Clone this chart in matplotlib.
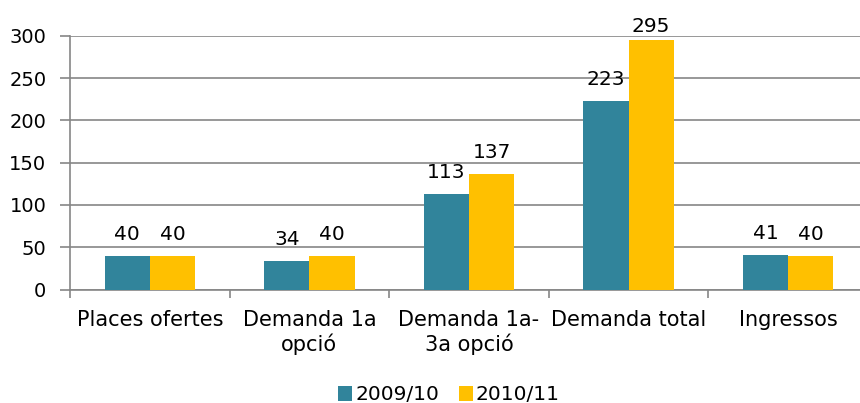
import matplotlib
matplotlib.use("Agg")
import matplotlib.pyplot as plt
import numpy as np

categories = ["Places ofertes", "Demanda 1a\nopció", "Demanda 1a-\n3a opció", "Demanda total", "Ingressos"]
series_names = ["2009/10", "2010/11"]
values_2009 = [40, 34, 113, 223, 41]
values_2010 = [40, 40, 137, 295, 40]
yticks = [0, 50, 100, 150, 200, 250, 300]

colors = ["#31849B", "#FFC000"]
grid_c = "#868686"
fs = 14

W, H = 860, 403
fig = plt.figure(figsize=(W / 100, H / 100), dpi=100)
left, right, top, bottom = 70, 868, 36, 289.5
ax = fig.add_axes([left / W, 1 - bottom / H, (right - left) / W, (bottom - top) / H])

ymax = 300
px_per_unit = (bottom - top) / ymax
gap = 15.7 / px_per_unit          # label baseline gap above bar (data units)
cap = ymax + 4 / px_per_unit      # labels cannot rise above plot top + 4px

x = np.arange(len(categories))
bw = 0.283
for i, (vals, c, name) in enumerate(zip([values_2009, values_2010], colors, series_names)):
    pos = x + (i - 0.5) * bw
    ax.bar(pos, vals, width=bw, color=c, label=name, zorder=3)
    for p, v in zip(pos, vals):
        ax.text(p, min(v + gap, cap), str(v), ha="center", va="baseline",
                fontsize=14.5, color="black", clip_on=False)

ax.set_xlim(-0.5, len(categories) - 0.5)
ax.set_ylim(0, ymax)
ax.set_yticks(yticks)
ax.set_yticklabels([str(t) for t in yticks], fontsize=fs)
ax.yaxis.grid(True, color=grid_c, linewidth=1.2, zorder=0)
ax.set_axisbelow(True)

ax.set_xticks(x)
ax.set_xticklabels(categories, fontsize=15, linespacing=1.2)
ax.set_xticks(np.arange(len(categories) + 1) - 0.5, minor=True)
ax.tick_params(axis="x", which="major", length=0, pad=15)
ax.tick_params(axis="x", which="minor", length=6, width=1.2, color=grid_c, direction="out")
ax.tick_params(axis="y", length=7, width=1.2, color=grid_c, pad=10)

for s in ["top", "right"]:
    ax.spines[s].set_visible(False)
for s in ["left", "bottom"]:
    ax.spines[s].set_color(grid_c)
    ax.spines[s].set_linewidth(1.2)

fig.legend(loc="center", bbox_to_anchor=(449 / W, 1 - 395 / H), ncol=2, frameon=False,
           fontsize=14.5, handlelength=0.7, handleheight=0.7, handletextpad=0.15,
           columnspacing=0.95)

fig.savefig("out.png", dpi=100)
